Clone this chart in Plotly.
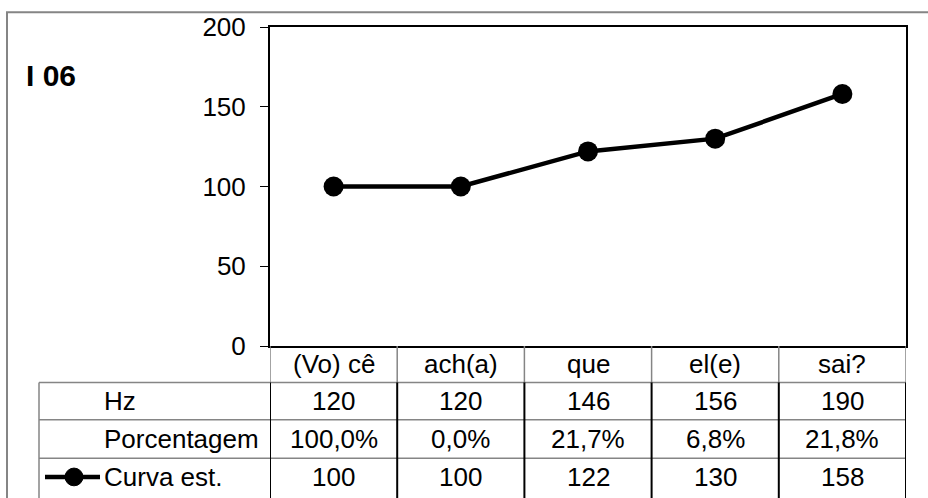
import plotly.graph_objects as go

# ---- data ----
categories = ["(Vo) cê", "ach(a)", "que", "el(e)", "sai?"]
hz_values = [120, 120, 146, 156, 190]
porcentagem = ["100,0%", "0,0%", "21,7%", "6,8%", "21,8%"]
curva_est = [100, 100, 122, 130, 158]
row_labels = ["Hz", "Porcentagem", "Curva est."]
y_ticks = [0, 50, 100, 150, 200]
chart_title = "I 06"

# ---- layout geometry (pixels) ----
WIDTH, HEIGHT = 928, 498
L, R, T, B = 270, 906, 22, 346
PW, PH = R - L, B - T


def px(xp):
    return (xp - L) / PW


def py(yp):
    return (B - yp) / PH


FONT = "Liberation Sans, Arial, sans-serif"
FS = 26
GRAY = "#858585"

fig = go.Figure()
fig.add_trace(go.Scatter(
    x=categories, y=curva_est, mode="lines+markers",
    line=dict(color="black", width=4.5),
    marker=dict(color="black", size=20),
    name="Curva est.", showlegend=False, hoverinfo="x+y",
))

shapes = []
annotations = []

# outer chart border (gray, open on right/bottom)
shapes.append(dict(type="rect", xref="paper", yref="paper",
                   x0=px(7), x1=px(940), y0=py(510), y1=py(7),
                   line=dict(color=GRAY, width=2), layer="below"))

# table horizontal lines (gray)
for yl in [383, 421, 460]:
    shapes.append(dict(type="line", xref="paper", yref="paper",
                       x0=px(39), x1=px(R), y0=py(yl), y1=py(yl),
                       line=dict(color=GRAY, width=1.5)))
# left border of table
shapes.append(dict(type="line", xref="paper", yref="paper",
                   x0=px(39), x1=px(39), y0=py(383), y1=py(505),
                   line=dict(color=GRAY, width=1.5)))

n = len(categories)
for i in range(n + 1):
    xb = i - 0.5
    # header row verticals (gray)
    shapes.append(dict(type="line", xref="x", yref="paper",
                       x0=xb, x1=xb, y0=py(383), y1=py(B),
                       line=dict(color=GRAY, width=1.5)))
    # data rows verticals (black)
    shapes.append(dict(type="line", xref="x", yref="paper",
                       x0=xb, x1=xb, y0=py(505), y1=py(383),
                       line=dict(color="black", width=2)))

# header row: category names
for c in categories:
    annotations.append(dict(x=c, xref="x", y=py(364.5), yref="paper",
                            text=c, showarrow=False, xanchor="center", yanchor="middle",
                            font=dict(family=FONT, size=FS, color="black")))

row_centers = [402, 440.5, 479.5]
row_values = [[str(v) for v in hz_values], porcentagem, [str(v) for v in curva_est]]
for lab, yc, vals in zip(row_labels, row_centers, row_values):
    annotations.append(dict(x=px(102), xref="paper", y=py(yc), yref="paper",
                            text=lab, showarrow=False, xanchor="left", yanchor="middle",
                            font=dict(family=FONT, size=FS, color="black")))
    for c, v in zip(categories, vals):
        annotations.append(dict(x=c, xref="x", y=py(yc), yref="paper",
                                text=v, showarrow=False, xanchor="center", yanchor="middle",
                                font=dict(family=FONT, size=FS, color="black")))

# legend key in last row
shapes.append(dict(type="line", xref="paper", yref="paper",
                   x0=px(45), x1=px(100), y0=py(479), y1=py(479),
                   line=dict(color="black", width=4.5)))
shapes.append(dict(type="circle", xref="paper", yref="paper",
                   x0=px(65), x1=px(83), y0=py(488), y1=py(470),
                   fillcolor="black", line=dict(color="black", width=1)))

# title
annotations.append(dict(x=px(24), xref="paper", y=py(71), yref="paper",
                        text="<b>" + chart_title + "</b>", showarrow=False,
                        xanchor="left", yanchor="middle",
                        font=dict(family=FONT, size=30, color="black")))

fig.update_layout(
    width=WIDTH, height=HEIGHT,
    margin=dict(l=L, r=WIDTH - R, t=T, b=HEIGHT - B),
    paper_bgcolor="white", plot_bgcolor="white",
    showlegend=False,
    shapes=shapes, annotations=annotations,
    xaxis=dict(type="category", range=[-0.5, n - 0.5], showticklabels=False,
               ticks="", showgrid=False, zeroline=False,
               showline=True, mirror=True, linecolor="black", linewidth=2),
    yaxis=dict(range=[0, 200], tickvals=y_ticks, ticks="outside", ticklen=8,
               tickcolor="black", tickwidth=1, showgrid=False, zeroline=False,
               showline=True, mirror=True, linecolor="black", linewidth=2,
               ticklabelstandoff=9,
               tickfont=dict(family=FONT, size=FS, color="black")),
)

fig.write_html("out.html", config={"displayModeBar": False},
               post_script="document.body.style.margin='0';document.body.style.overflow='hidden';")
